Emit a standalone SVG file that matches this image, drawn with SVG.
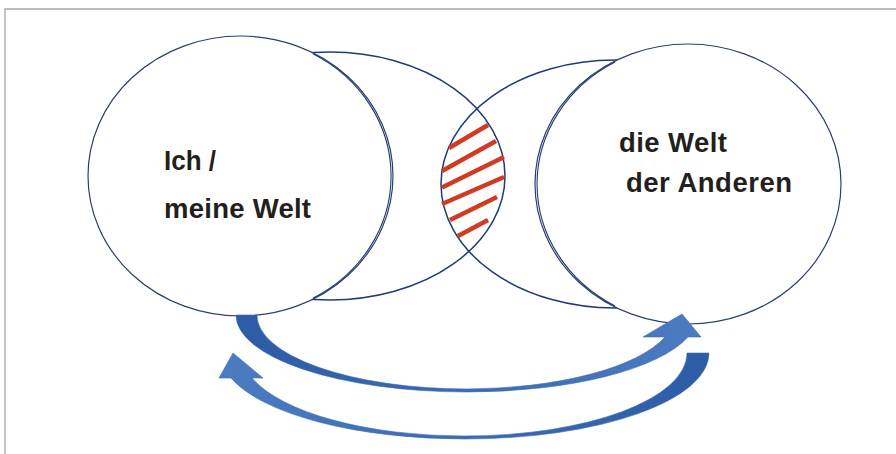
<svg xmlns="http://www.w3.org/2000/svg" width="896" height="454" viewBox="0 0 896 454">
  <style>
    .frame { fill: none; stroke: #a6a6a6; stroke-width: 1.3; }
    .back { fill: none; stroke: #1f3a7a; stroke-width: 1.5; }
    .front { fill: #ffffff; stroke: #2a3f6e; stroke-width: 1.2; }
    .rim { fill: none; stroke: #1f3a7a; stroke-width: 1.1; }
    .hatch { stroke: #d13b24; stroke-width: 4.5; stroke-linecap: butt; }
    .label { font-family: "Liberation Sans", Arial, sans-serif; font-weight: bold; font-size: 27.5px; fill: #231f20; }
    .arrow { stroke: #3d6bb3; stroke-width: 0.6; }
  </style>
  <defs>
    <linearGradient id="gradUpper" gradientUnits="userSpaceOnUse" x1="236" y1="0" x2="701" y2="0">
      <stop offset="0" stop-color="#2d5ca6"/>
      <stop offset="1" stop-color="#4b7bc1"/>
    </linearGradient>
    <linearGradient id="gradLower" gradientUnits="userSpaceOnUse" x1="709" y1="0" x2="219" y2="0">
      <stop offset="0" stop-color="#2d5ca6"/>
      <stop offset="1" stop-color="#4b7bc1"/>
    </linearGradient>
  </defs>

  <!-- outer frame (top and left edges) -->
  <polyline class="frame" points="5,454 5,9 896,9"/>

  <!-- my world -->
  <g id="node-ich">
    <ellipse class="back" cx="330" cy="176" rx="175" ry="124"/>
    <ellipse class="front" cx="240.5" cy="176" rx="152.5" ry="140"/>
    <path class="rim" d="M 313 53.8 A 152.5 140 0 0 1 313 298.2"/>
    <text class="label" x="164" y="170" textLength="52" lengthAdjust="spacingAndGlyphs">Ich /</text>
    <text class="label" x="164" y="218" textLength="147" lengthAdjust="spacing">meine Welt</text>
  </g>

  <!-- the world of the others -->
  <g id="node-andere">
    <ellipse class="back" cx="615" cy="184" rx="174" ry="124"/>
    <ellipse class="front" cx="688" cy="184" rx="153" ry="140"/>
    <path class="rim" d="M 615 62 A 153 140 0 0 0 615 306"/>
    <text class="label" x="619" y="152" textLength="108" lengthAdjust="spacing">die Welt</text>
    <text class="label" x="626" y="192" textLength="166" lengthAdjust="spacing">der Anderen</text>
  </g>

  <!-- shared area, hatched -->
  <g id="overlap">
    <line class="hatch" x1="449" y1="148" x2="488" y2="125"/>
    <line class="hatch" x1="442" y1="171" x2="496" y2="141"/>
    <line class="hatch" x1="442" y1="187.5" x2="504" y2="157"/>
    <line class="hatch" x1="442" y1="204" x2="504" y2="177"/>
    <line class="hatch" x1="450" y1="220" x2="497" y2="197"/>
    <line class="hatch" x1="458" y1="236" x2="488" y2="220"/>
  </g>

  <!-- curved exchange arrows -->
  <g id="connectors">
    <path class="arrow" fill="url(#gradUpper)" d="M 236 315 A 231 77 0 0 0 467 392 A 231 77 0 0 0 688 337 L 701 337 L 682 314 L 643 337 L 665 337 A 210 74 0 0 1 467 389 A 210 74 0 0 1 257 315 Z"/>
    <path class="arrow" fill="url(#gradLower)" d="M 709 353 A 244 86 0 0 1 465 439 A 244 86 0 0 1 231 378 L 219 378 L 233 353 L 263 378 L 252 378 A 222 83 0 0 0 465 436 A 222 83 0 0 0 687 353 Z"/>
  </g>
</svg>
